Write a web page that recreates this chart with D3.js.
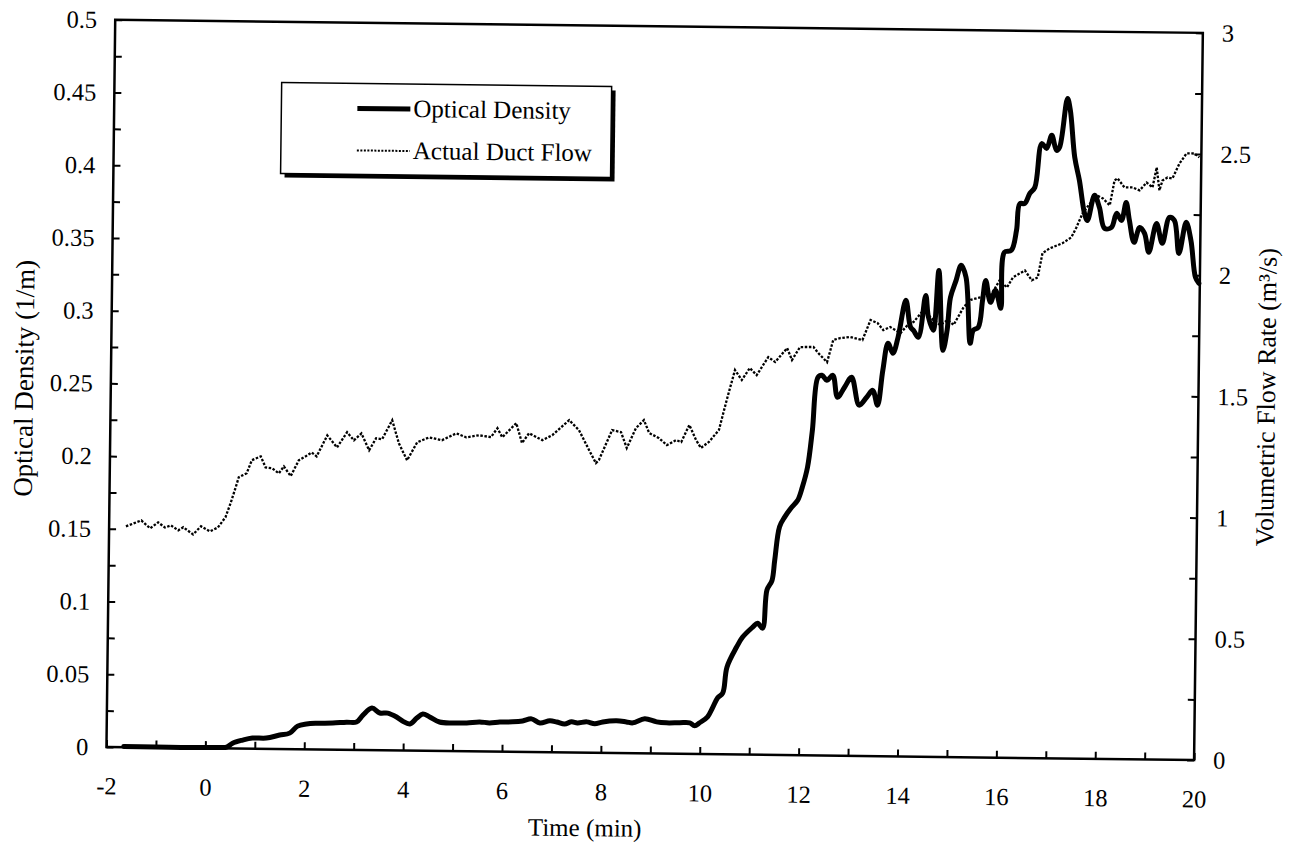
<!DOCTYPE html>
<html>
<head>
<meta charset="utf-8">
<script src="https://cdn.jsdelivr.net/npm/d3@7"></script>
<style>
  html, body { margin: 0; padding: 0; background: #fff; }
  svg { display: block; }
  text { font-family: "Liberation Serif", "Times New Roman", serif; fill: #000; }
</style>
</head>
<body>
<svg id="chart" width="1297" height="854"></svg>
<script>
// ---------------- DATA ----------------
const odTime = [-1.65, 0.3, 0.43, 0.55, 0.75, 0.95, 1.23, 1.5, 1.7, 1.86, 2.04, 2.25, 2.57, 2.85, 3.05, 3.18, 3.36, 3.52, 3.68, 3.86, 3.98, 4.13, 4.27, 4.39, 4.53, 4.73, 4.99, 5.28, 5.54, 5.74, 5.95, 6.21, 6.41, 6.59, 6.76, 6.96, 7.1, 7.26, 7.4, 7.52, 7.71, 7.87, 8.03, 8.31, 8.51, 8.64, 8.88, 9.12, 9.32, 9.59, 9.79, 9.89, 9.99, 10.15, 10.25, 10.35, 10.45, 10.53, 10.72, 10.84, 11.04, 11.14, 11.24, 11.32, 11.42, 11.47, 11.56, 11.66, 11.8, 11.92, 12.01, 12.11, 12.2, 12.3, 12.38, 12.48, 12.6, 12.7, 12.84, 12.98, 13.14, 13.29, 13.41, 13.51, 13.61, 13.71, 13.81, 13.91, 14.06, 14.16, 14.22, 14.32, 14.46, 14.52, 14.62, 14.72, 14.82, 14.9, 14.96, 15.07, 15.17, 15.27, 15.37, 15.43, 15.53, 15.61, 15.67, 15.77, 15.87, 15.98, 16.04, 16.18, 16.28, 16.34, 16.44, 16.54, 16.64, 16.77, 16.87, 16.97, 17.07, 17.13, 17.28, 17.34, 17.44, 17.54, 17.65, 17.71, 17.85, 17.95, 18.06, 18.2, 18.3, 18.4, 18.49, 18.56, 18.66, 18.77, 18.87, 18.96, 19.11, 19.23, 19.37, 19.47, 19.57, 19.71, 19.81, 19.91, 19.98];
const odValue = [0.0005, 0.0005, 0.0008, 0.0036, 0.0058, 0.0073, 0.0074, 0.0096, 0.011, 0.0159, 0.0174, 0.018, 0.0183, 0.019, 0.0192, 0.024, 0.0289, 0.0256, 0.0256, 0.023, 0.0203, 0.0183, 0.0224, 0.0253, 0.0233, 0.0199, 0.0193, 0.0195, 0.0203, 0.0197, 0.0204, 0.0206, 0.0213, 0.0228, 0.0201, 0.0216, 0.0209, 0.0196, 0.0211, 0.0204, 0.0212, 0.0199, 0.0213, 0.0222, 0.0215, 0.0209, 0.0238, 0.0218, 0.0212, 0.0214, 0.0214, 0.0194, 0.0215, 0.0257, 0.032, 0.0389, 0.0421, 0.06, 0.0739, 0.0808, 0.0877, 0.0905, 0.0871, 0.1133, 0.12, 0.134, 0.157, 0.1636, 0.1705, 0.1753, 0.1843, 0.198, 0.2236, 0.26, 0.2615, 0.258, 0.2615, 0.2465, 0.2534, 0.2603, 0.2412, 0.2467, 0.2515, 0.2413, 0.2654, 0.284, 0.2772, 0.2882, 0.3137, 0.2952, 0.2931, 0.2884, 0.3172, 0.3022, 0.2933, 0.3345, 0.2796, 0.2934, 0.316, 0.3278, 0.3382, 0.33, 0.2847, 0.2936, 0.2957, 0.3143, 0.328, 0.313, 0.3213, 0.309, 0.3475, 0.3489, 0.3627, 0.381, 0.3813, 0.3882, 0.3924, 0.4226, 0.4193, 0.4283, 0.418, 0.4201, 0.4538, 0.4456, 0.4133, 0.3975, 0.375, 0.37, 0.3874, 0.3792, 0.3648, 0.3655, 0.3752, 0.3704, 0.3828, 0.3705, 0.3554, 0.3657, 0.3617, 0.3487, 0.3686, 0.355, 0.3729, 0.3708, 0.3482, 0.3696, 0.3572, 0.3319, 0.3278];

const flowTime = [-1.66, -1.35, -1.17, -1.01, -0.87, -0.75, -0.6, -0.5, -0.3, -0.14, 0.04, 0.2, 0.35, 0.45, 0.55, 0.61, 0.77, 0.87, 1.05, 1.15, 1.28, 1.42, 1.52, 1.66, 1.82, 1.96, 2.08, 2.18, 2.39, 2.59, 2.79, 2.93, 3.08, 3.24, 3.38, 3.5, 3.7, 3.84, 4.01, 4.21, 4.45, 4.71, 5.0, 5.2, 5.46, 5.7, 5.83, 5.93, 6.21, 6.33, 6.47, 6.74, 6.94, 7.28, 7.48, 7.69, 7.83, 7.89, 8.15, 8.33, 8.45, 8.63, 8.79, 8.9, 9.1, 9.26, 9.45, 9.55, 9.71, 9.85, 9.95, 10.11, 10.31, 10.46, 10.62, 10.76, 10.92, 11.06, 11.29, 11.43, 11.67, 11.77, 11.93, 12.2, 12.3, 12.48, 12.6, 12.74, 12.94, 13.19, 13.35, 13.49, 13.61, 13.75, 13.96, 14.1, 14.22, 14.42, 14.62, 14.76, 14.91, 15.03, 15.23, 15.37, 15.51, 15.78, 15.95, 16.1, 16.22, 16.46, 16.6, 16.72, 16.81, 16.95, 17.21, 17.39, 17.49, 17.61, 17.76, 17.9, 18.02, 18.16, 18.25, 18.31, 18.45, 18.62, 18.76, 18.9, 19.02, 19.1, 19.16, 19.22, 19.32, 19.42, 19.56, 19.7, 19.86, 19.96];
const flowValue = [0.911, 0.936, 0.904, 0.929, 0.908, 0.917, 0.897, 0.91, 0.881, 0.915, 0.894, 0.911, 0.953, 1.011, 1.077, 1.119, 1.136, 1.19, 1.206, 1.161, 1.158, 1.137, 1.166, 1.126, 1.192, 1.209, 1.225, 1.209, 1.296, 1.247, 1.31, 1.277, 1.306, 1.237, 1.287, 1.283, 1.362, 1.267, 1.197, 1.272, 1.293, 1.282, 1.311, 1.295, 1.304, 1.297, 1.334, 1.297, 1.356, 1.274, 1.315, 1.287, 1.308, 1.371, 1.33, 1.248, 1.195, 1.208, 1.332, 1.324, 1.259, 1.341, 1.375, 1.322, 1.301, 1.273, 1.294, 1.286, 1.357, 1.295, 1.263, 1.288, 1.338, 1.462, 1.586, 1.545, 1.595, 1.566, 1.641, 1.621, 1.679, 1.63, 1.684, 1.685, 1.66, 1.623, 1.715, 1.723, 1.728, 1.716, 1.799, 1.787, 1.758, 1.771, 1.747, 1.78, 1.793, 1.843, 1.802, 1.782, 1.803, 1.783, 1.857, 1.887, 1.895, 1.908, 1.969, 1.94, 1.982, 2.011, 1.971, 1.983, 2.083, 2.103, 2.125, 2.15, 2.191, 2.249, 2.291, 2.324, 2.312, 2.284, 2.387, 2.396, 2.359, 2.359, 2.347, 2.38, 2.36, 2.443, 2.348, 2.389, 2.402, 2.398, 2.46, 2.502, 2.502, 2.486];

const xTicks = d3.range(-2, 21, 1);
const xTickLabels = ["-2", "0", "2", "4", "6", "8", "10", "12", "14", "16", "18", "20"];
const leftTicks = d3.range(0, 21, 1).map(i => i * 0.025);
const leftTickLabels = ["0", "0.05", "0.1", "0.15", "0.2", "0.25", "0.3", "0.35", "0.4", "0.45", "0.5"];
const rightTicks = d3.range(0, 13, 1).map(i => i * 0.25);
const rightTickLabels = ["0", "0.5", "1", "1.5", "2", "2.5", "3"];

const seriesNames = ["Optical Density", "Actual Duct Flow"];
const xTitle = "Time (min)";
const leftTitle = "Optical Density (1/m)";
const rightTitle = "Volumetric Flow Rate (m\u00B3/s)";

// ---------------- LAYOUT ----------------
const L = 110.8, R = 1198.5, T = 26.3, B = 753.5;
const cx = (L + R) / 2, cy = (T + B) / 2;
const tilt = 0.69; // scanned page is slightly rotated
const SERIF = '"Liberation Serif", "Times New Roman", serif';

const svg = d3.select("#chart");
svg.append("rect").attr("width", 1297).attr("height", 854).attr("fill", "#fff");
const g = svg.append("g").attr("transform", `rotate(${tilt},${cx},${cy})`);

const x = d3.scaleLinear().domain([-2, 20]).range([L, R]);
const yL = d3.scaleLinear().domain([0, 0.5]).range([B, T]);
const yR = d3.scaleLinear().domain([0, 3]).range([B, T]);

const FS = 24.5;

// axes
const xAxis = d3.axisBottom(x).tickValues(xTicks).tickSizeInner(-7).tickSizeOuter(0).tickPadding(30)
  .tickFormat((d, i) => i % 2 === 0 ? xTickLabels[i / 2] : "");
const lAxis = d3.axisLeft(yL).tickValues(leftTicks).tickSizeInner(-7).tickSizeOuter(0).tickPadding(18)
  .tickFormat((d, i) => i % 2 === 0 ? leftTickLabels[i / 2] : "");
const rAxis = d3.axisRight(yR).tickValues(rightTicks).tickSizeInner(-7).tickSizeOuter(0).tickPadding(19)
  .tickFormat((d, i) => i % 2 === 0 ? rightTickLabels[i / 2] : "");

function styleAxis(sel) {
  sel.attr("font-family", SERIF);
  sel.select(".domain").remove();
  sel.selectAll(".tick line").attr("stroke", "#000").attr("stroke-width", 2);
  sel.selectAll(".tick text").attr("font-size", FS).style("font-family", SERIF).attr("fill", "#000");
}
g.append("g").attr("transform", `translate(0,${B})`).call(xAxis).call(styleAxis);
g.append("g").attr("transform", `translate(${L},0)`).call(lAxis).call(styleAxis);
g.append("g").attr("transform", `translate(${R},0)`).call(rAxis).call(styleAxis);

// frame
g.append("rect").attr("x", L).attr("y", T).attr("width", R - L).attr("height", B - T)
  .attr("fill", "none").attr("stroke", "#000").attr("stroke-width", 2.5);

// lines
const odData = odTime.map((t, i) => [t, odValue[i]]);
const flowData = flowTime.map((t, i) => [t, flowValue[i]]);

const odLine = d3.line().x(d => x(d[0])).y(d => yL(d[1])).curve(d3.curveCatmullRom.alpha(0.5));
const flowLine = d3.line().x(d => x(d[0])).y(d => yR(d[1]));

g.append("path").datum(flowData).attr("d", flowLine).attr("fill", "none")
  .attr("stroke", "#000").attr("stroke-width", 2.3).attr("stroke-dasharray", "2.5,1.6");
g.append("path").datum(odData).attr("d", odLine).attr("fill", "none")
  .attr("stroke", "#000").attr("stroke-width", 5).attr("stroke-linejoin", "round").attr("stroke-linecap", "round");

// titles
g.append("text").attr("x", 590).attr("y", 837).attr("text-anchor", "middle").attr("font-size", 25).text(xTitle);
g.append("text").attr("transform", `translate(33,${cy - 4}) rotate(-90)`).attr("text-anchor", "middle").attr("font-size", 27).text(leftTitle);
g.append("text").attr("transform", `translate(1275,${cy}) rotate(-90)`).attr("text-anchor", "middle").attr("font-size", 26).text(rightTitle);

// legend
const lg = g.append("g");
const lx = 278, ly = 87, lw = 330, lh = 91;
lg.append("rect").attr("x", lx + 4).attr("y", ly + 4).attr("width", lw).attr("height", lh).attr("fill", "#000");
lg.append("rect").attr("x", lx).attr("y", ly).attr("width", lw).attr("height", lh).attr("fill", "#fff").attr("stroke", "#000").attr("stroke-width", 1.5);
lg.append("line").attr("x1", 354).attr("x2", 407).attr("y1", 112).attr("y2", 112).attr("stroke", "#000").attr("stroke-width", 5);
lg.append("line").attr("x1", 354).attr("x2", 407).attr("y1", 154).attr("y2", 154).attr("stroke", "#000").attr("stroke-width", 2).attr("stroke-dasharray", "2,1.5");
lg.append("text").attr("x", 410).attr("y", 120).attr("font-size", 25).text(seriesNames[0]);
lg.append("text").attr("x", 410).attr("y", 162).attr("font-size", 25).text(seriesNames[1]);
</script>
</body>
</html>
